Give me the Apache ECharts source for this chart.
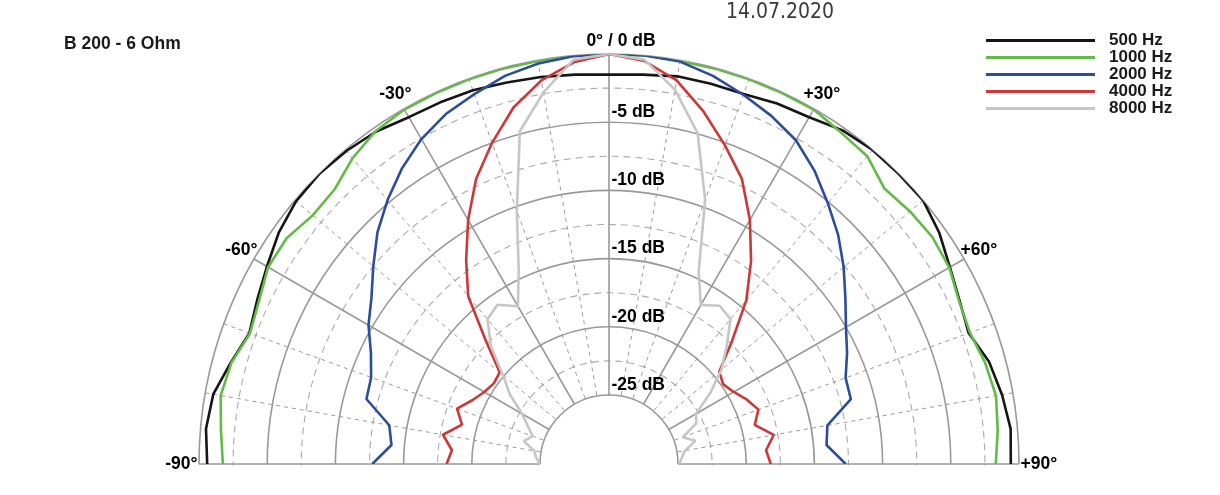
<!DOCTYPE html>
<html><head><meta charset="utf-8">
<script src="https://cdn.jsdelivr.net/npm/echarts@6/dist/echarts.min.js"></script>
<style>html,body{margin:0;padding:0;background:#fff}#c{width:1220px;height:495px}</style>
</head><body><div id="c"></div>
<script>
// angles in degrees (0 = on-axis, negative = left)
const angles = [-90,-85,-80,-75,-70,-65,-60,-55,-50,-45,-40,-35,-30,-25,-20,-15,-10,-5,0,5,10,15,20,25,30,35,40,45,50,55,60,65,70,75,80,85,90];
// level in dB per angle
const hz500  = [-0.6,-0.4,-0.6,-1.35,-2.0,-1.6,-1.1,-0.5,-0.1,0,-0.1,-0.3,-0.7,-0.8,-0.9,-1.1,-1.25,-1.4,-1.5,-1.4,-1.2,-1.2,-1.2,-0.9,-0.7,-0.2,0,0,0,-0.5,-1.2,-1.7,-2.0,-1.2,-0.8,-0.5,-0.6];
const hz1000 = [-1.75,-1.5,-1.15,-1.4,-2.05,-1.75,-1.2,-1.2,-1.7,-1.6,-0.8,-0.25,-0.05,-0.05,-0.05,-0.05,-0.05,0,0,0,-0.05,-0.05,-0.05,-0.05,-0.05,-0.4,-0.6,-1.5,-1.25,-1.1,-1.25,-1.75,-1.9,-1.5,-1.25,-1.45,-1.7];
const hz2000 = [-12.7,-14.05,-13.7,-11.65,-11.5,-10.8,-9.7,-8.8,-7.5,-6.05,-4.8,-3.6,-2.55,-1.75,-1.2,-0.6,-0.25,-0.05,0,0,-0.1,-0.6,-1.25,-1.9,-2.65,-3.8,-5.1,-6.3,-7.6,-8.9,-10.0,-10.8,-11.6,-11.7,-13.8,-14.05,-12.7];
const hz4000 = [-18.15,-18.5,-17.7,-18.9,-18.2,-19.0,-19.5,-19.75,-19.6,-17.3,-14.0,-11.8,-9.4,-7.0,-5.0,-3.0,-1.5,-0.5,0,-0.4,-1.5,-3.3,-5.2,-7.0,-9.4,-11.9,-14.4,-17.3,-19.5,-19.85,-19.5,-18.9,-18.4,-19.0,-17.8,-18.5,-18.2];
const hz8000 = [-25,-24.7,-24.5,-23.6,-24.1,-23.5,-22.7,-21.2,-19.9,-17.8,-16.2,-15.8,-16.7,-14.4,-10.3,-4.8,-2.4,-0.3,0,-0.3,-2.2,-4.95,-9.45,-14.5,-16.6,-15.9,-16.2,-17.85,-19.3,-21.0,-22.7,-23.0,-24.3,-23.5,-24.4,-24.7,-24.9];
const seriesNames = ['500 Hz','1000 Hz','2000 Hz','4000 Hz','8000 Hz'];
const seriesColors = ['#151515','#62bb46','#2c4c9c','#cf3636','#c6c6c6'];
const dbTicks = [-5,-10,-15,-20,-25];
const dbTickLabels = ['-5 dB','-10 dB','-15 dB','-20 dB','-25 dB'];
const angleTicks = [-90,-60,-30,30,60,90];
const angleTickLabels = ['-90°','-60°','-30°','+30°','+60°','+90°'];
const topLabel = '0° / 0 dB';
const titleText = 'B 200 - 6 Ohm';
const dateText = '14.07.2020';

// label placement styles for the angle tick labels (not data)
const angleLabelStyle = [
  {position: 'left',  distance: 1,   offset: [0, 0]},
  {position: 'left',  distance: -4,  offset: [0, -9]},
  {position: 'left',  distance: -8,  offset: [0, -15]},
  {position: 'right', distance: -11, offset: [0, -15]},
  {position: 'right', distance: -4,  offset: [0, -9]},
  {position: 'right', distance: 1,   offset: [0, 0]}
];

const allData = [hz500, hz1000, hz2000, hz4000, hz8000];
const FONT = '"Liberation Sans", Arial, sans-serif';
const labelFont = {fontFamily: FONT, fontSize: 17.5, fontWeight: 'bold', color: '#000', opacity: 1, textBorderWidth: 0, textShadowBlur: 0};
const chart = echarts.init(document.getElementById('c'), null, {renderer:'canvas'});
const lineSeries = seriesNames.map((n, k) => ({
  type: 'line', name: n, coordinateSystem: 'polar', symbol: 'none', z: 3,
  data: angles.map((a, i) => [allData[k][i], a]),
  lineStyle: {width: 2.6, color: seriesColors[k]},
  itemStyle: {color: seriesColors[k]}
}));
chart.setOption({
  animation: false,
  backgroundColor: '#fff',
  title: [
    {text: titleText, left: 64, top: 35, padding: 0, textStyle: {fontFamily: FONT, fontSize: 17.5, fontWeight: 'bold', color: '#1a1a1a', lineHeight: 18}},
    {text: dateText, left: 726, top: 2, padding: 0, textStyle: {fontFamily: '"DejaVu Sans Condensed","DejaVu Sans",sans-serif', fontSize: 21, fontWeight: 'normal', color: '#3a3a3a', lineHeight: 22}}
  ],
  legend: {
    orient: 'vertical', left: 986, top: 32, padding: 0, itemGap: 0, icon: 'rect', itemWidth: 109, itemHeight: 3,
    data: seriesNames,
    textStyle: {fontFamily: FONT, fontSize: 17, fontWeight: 'bold', color: '#1a1a1a', lineHeight: 17, padding: [0,0,0,9]}
  },
  graphic: [{type: 'rect', shape: {x: 0, y: 465.5, width: 1220, height: 40}, style: {fill: '#fff'}, z: 1, silent: true}],
  polar: {center: [609, 464], radius: [69, 410]},
  angleAxis: {
    type: 'value', min: -90, max: 90, interval: 30, startAngle: 180, endAngle: 0, clockwise: true, z: 2,
    axisLine: {show: false}, axisTick: {show: false}, axisLabel: {show: false},
    splitLine: {show: true, lineStyle: {color: '#999', width: 1.6}},
    minorTick: {show: false, splitNumber: 3},
    minorSplitLine: {show: true, lineStyle: {color: '#9a9a9a', width: 1, type: [4, 4]}}
  },
  radiusAxis: {
    type: 'value', min: -25, max: 0, interval: 5, z: 0,
    axisLine: {show: false}, axisTick: {show: false}, axisLabel: {show: false},
    splitLine: {show: true, lineStyle: {color: '#999', width: 1.6}},
    minorTick: {show: false, splitNumber: 2},
    minorSplitLine: {show: true, lineStyle: {color: '#aaa', width: 1.1, type: [7, 5]}}
  },
  series: lineSeries.concat([
    {type: 'scatter', coordinateSystem: 'polar', symbolSize: 1, itemStyle: {color: 'rgba(0,0,0,0)'}, z: 5, silent: true,
      data: dbTicks.map((d, i) => ({value: [d, 0], label: {formatter: dbTickLabels[i]}})),
      label: Object.assign({show: true, position: 'right', distance: 2, offset: [0, -10]}, labelFont)},
    {type: 'scatter', coordinateSystem: 'polar', symbolSize: 1, itemStyle: {color: 'rgba(0,0,0,0)'}, z: 5, silent: true,
      data: angleTicks.map((a, i) => ({value: [0, a], label: Object.assign({formatter: angleTickLabels[i]}, angleLabelStyle[i])})),
      label: Object.assign({show: true}, labelFont)},
    {type: 'scatter', coordinateSystem: 'polar', symbolSize: 1, itemStyle: {color: 'rgba(0,0,0,0)'}, z: 5, silent: true,
      data: [{value: [0, 0], label: {formatter: topLabel}}],
      label: Object.assign({show: true, position: 'top', distance: 3, offset: [12, 0]}, labelFont)}
  ])
});
</script></body></html>
